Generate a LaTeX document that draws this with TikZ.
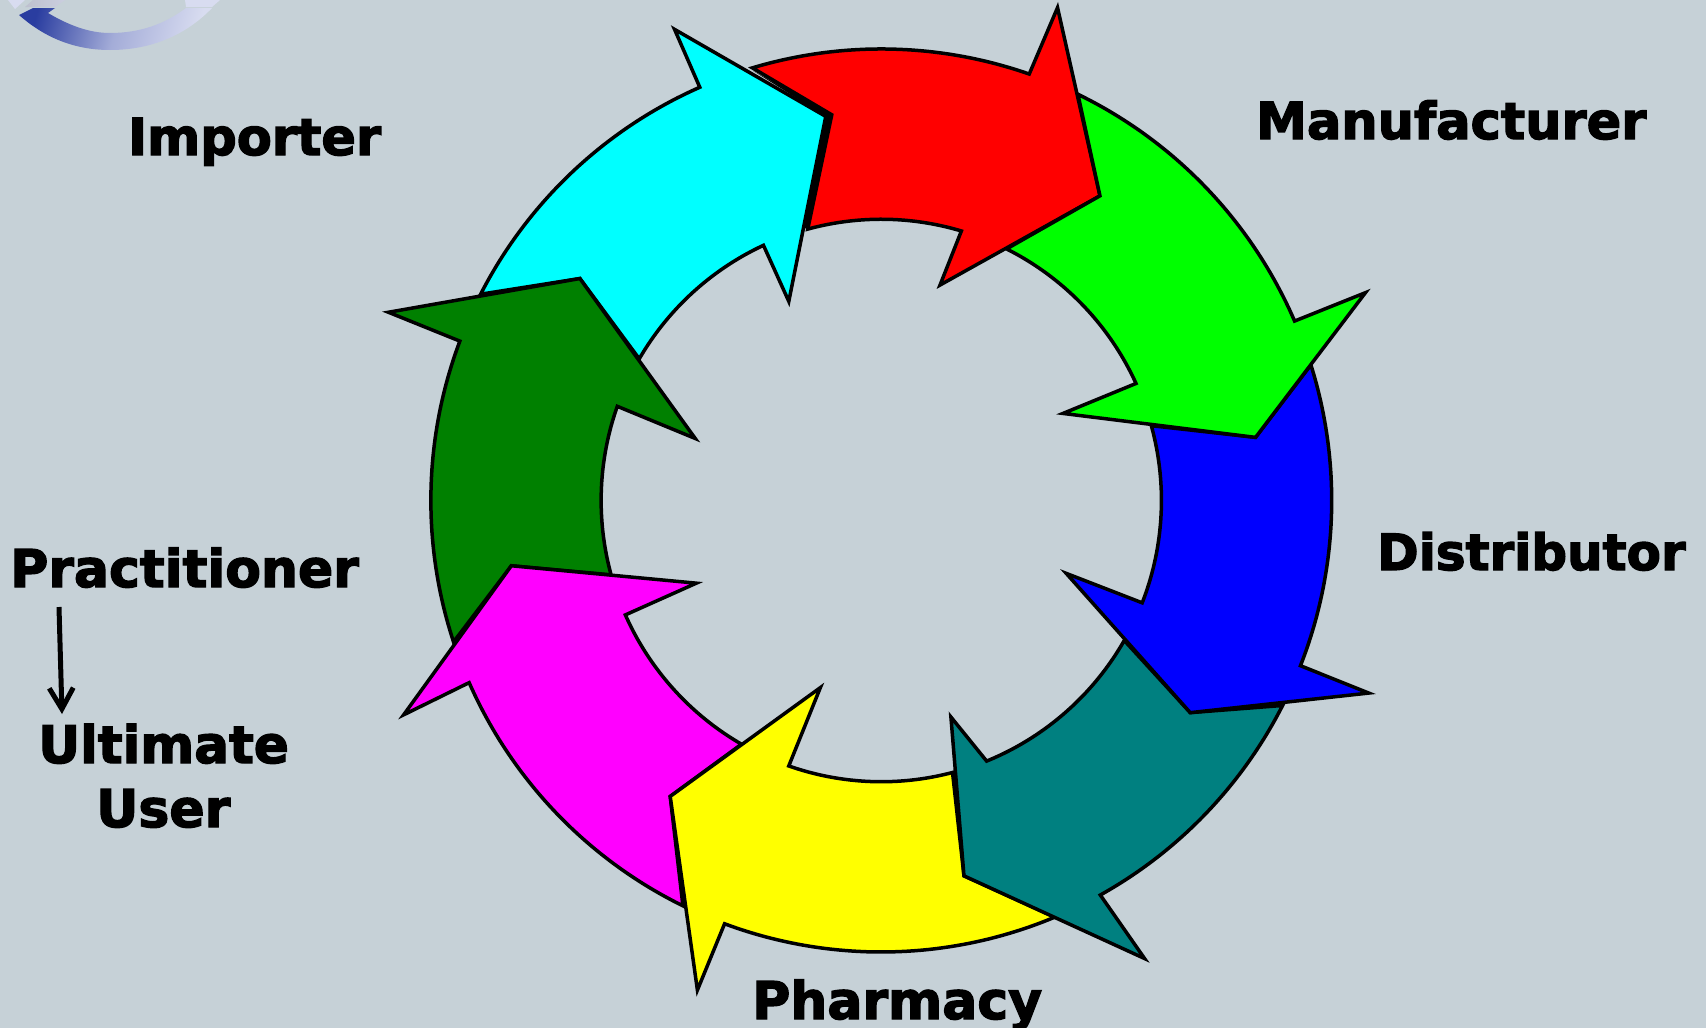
\documentclass[tikz,border=0pt]{standalone}
\usepackage{fontspec}
\usetikzlibrary{arrows.meta}
\newfontfamily\labfont{DejaVu Sans}[UprightFont=* Bold,FakeBold=2.6]
\definecolor{bgc}{HTML}{C6D1D7}
\definecolor{logodark}{HTML}{2A3DA0}
\definecolor{logolight}{HTML}{D8DCF0}
\definecolor{pcyan}{HTML}{00FFFF}
\definecolor{pmagenta}{HTML}{FF00FF}
\definecolor{pyellow}{HTML}{FFFF00}
\definecolor{pred}{HTML}{FF0000}
\definecolor{pgreen}{HTML}{00FF00}
\definecolor{pblue}{HTML}{0000FF}
\definecolor{pteal}{HTML}{008080}
\definecolor{pdark}{HTML}{008000}
\tikzset{
  spokeshape/.style={draw=black,line width=3.5pt,line join=miter,miter limit=20},
  lab/.style={font=\labfont\fontsize{#1}{#1}\selectfont,text=black,inner sep=0pt,anchor=base west},
  lab/.default=51,
  link/.style={draw=black,line width=5pt,-{Straight Barb[length=21pt,width=24pt,line width=5pt]}}
}
\def\getang#1,#2;#3{\pgfmathsetmacro#3{atan2(#2-460,#1-810)}}
\newcommand\spoke[9]{%
  \getang#2;\aA \getang#3;\aB \getang#7;\aC \getang#8;\aD
  \pgfmathsetmacro\aB{\aB<\aA?\aB+360:\aB}%
  \pgfmathsetmacro\aD{\aD>\aC?\aD-360:\aD}%
  \filldraw[spokeshape,fill=#1]
    plot[domain=\aA:\aB,samples=50] ({810+414*cos(\x)},{460+415*sin(\x)})
    -- (#4) -- (#5) -- (#6) --
    plot[domain=\aC:\aD,samples=50] ({810+257.5*cos(\x)},{460+258.5*sin(\x)})
    -- (#9) -- cycle;%
}
\begin{document}
\begin{tikzpicture}[x=1pt,y=-1pt]
\useasboundingbox (0,0) rectangle (1706,1028);
\fill[bgc] (0,0) rectangle (1706,1028);
% logo fragment
\fill[logolight] (8,0) -- (25,0) -- (15,9) -- cycle;
\shade[left color=logolight!70!gray,right color=logolight!85!gray] (33,0) -- (65,0) -- (55,7) -- (25,7) -- cycle;
\fill[logolight] (185,0) -- (220,0) -- (212,7) -- (186,7) -- cycle;
\shade[left color=logodark,right color=logolight,middle color=logolight!70!logodark,shading angle=75]
  (19,15) -- (33,8) -- (55,8) -- (48,13) .. controls (70,26) and (90,33) .. (110,33)
  .. controls (140,33) and (165,24) .. (186,8) -- (212,8) .. controls (185,36) and (150,50) .. (110,50)
  .. controls (75,50) and (45,38) .. (19,15) -- cycle;
\begin{scope}[x=1.088pt,y=-1.088pt]
\spoke{pred}{692,65}{946,69}{972,7}{1011,180}{864,262}{884,212}{742,210}{764.5,105.5}
\fill[black] (692,65) -- (764.5,105.5) -- (742,210) -- (736,210) -- (759,107) -- cycle;
\spoke{pcyan}{442,271}{644,83}{620,27}{759,107}{725,277}{702,227}{587,330}{533,256}
\spoke{pdark}{416,590}{423,314}{357,287}{533,256}{639,403}{568,374}{562,528}{470,520}
\spoke{pmagenta}{629,829}{429,628}{371,657}{470,520}{640,536}{572,566}{681,684}{616,732}
\spoke{pyellow}{970,843}{666,848}{641,910}{616,732}{754,632}{725,703}{876,711}{886,805}
\spoke{pteal}{1177,647}{1012,823}{1052,881}{886,805}{874,659}{907,699}{1033,588}{1094,655}
\spoke{pblue}{1207,335}{1194,611}{1258,637}{1094,655}{980,527}{1048,553}{1060,391}{1154,402}
\spoke{pgreen}{991,87}{1191,295}{1255,269}{1154,402}{977,380}{1046,352}{926,228}{1011,180}
\end{scope}
\node[lab] (importer) at (128,155) {Importer};
\node[lab] (manufacturer) at (1256,139) {Manufacturer};
\node[lab=50] (distributor) at (1377,570) {Distributor};
\node[lab=52] (pharmacy) at (752,1019) {Pharmacy};
\node[lab=52] (practitioner) at (10,587) {Practitioner};
\node[lab=51.7] (ultimate) at (38,763) {Ultimate};
\node[lab=52] (user) at (96,827) {User};
\coordinate (linkstart) at (59,607);
\coordinate (linkend) at (62,714);
\draw[link] (linkstart) -- (linkend);
\end{tikzpicture}
\end{document}
